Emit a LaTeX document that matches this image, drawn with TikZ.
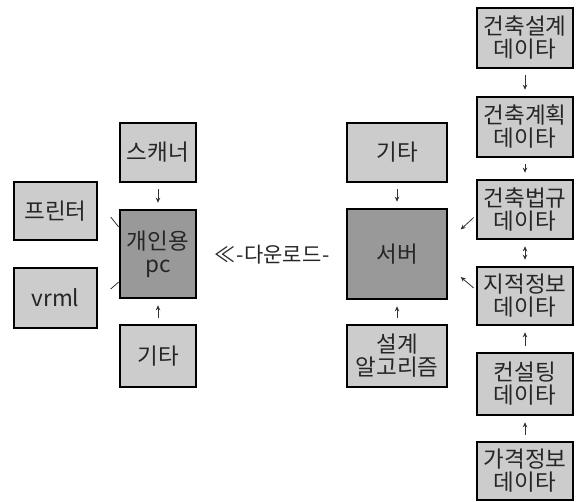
\documentclass[tikz,border=0pt]{standalone}
\usepackage{fontspec}
\setmainfont{Noto Sans CJK KR}
\usetikzlibrary{arrows.meta,calc}
\tikzset{
  box/.style={draw=black, line width=2.6pt, fill=black!20, align=center, inner sep=0pt,
    font=\fontsize{22.5}{23}\selectfont, text=black!85},
  dark/.style={box, fill=black!40},
  arr/.style={line width=0.8pt, draw=black!80, -{Stealth[length=5pt,width=4.5pt]}, shorten >=6pt, shorten <=6pt},
  darr/.style={arr, {Stealth[length=5pt,width=4.5pt]}-{Stealth[length=5pt,width=4.5pt]}},
  tick/.style={line width=0.8pt, draw=black!80}
}
\begin{document}
\begin{tikzpicture}[x=1pt,y=-1pt]
\useasboundingbox (0,0) rectangle (579,502);
% right column
\node[box, minimum width=96pt, minimum height=60pt] (d1) at (525,38) {건축설계\\데이타};
\node[box, minimum width=96pt, minimum height=60pt] (d2) at (525,127) {건축계획\\데이타};
\node[box, minimum width=96pt, minimum height=59pt] (d3) at (525,209.5) {건축법규\\데이타};
\node[box, minimum width=96pt, minimum height=58pt] (d4) at (525,296) {지적정보\\데이타};
\node[box, minimum width=96pt, minimum height=62pt] (d5) at (525,384) {컨설팅\\데이타};
\node[box, minimum width=96pt, minimum height=58pt] (d6) at (525,471) {가격정보\\데이타};
% server column
\node[box, minimum width=100pt, minimum height=59pt] (sg) at (397,152.5) {기타};
\node[dark, minimum width=100pt, minimum height=90pt] (sv) at (397,254) {서버};
\node[box, minimum width=100pt, minimum height=62pt] (al) at (397,356) {설계\\알고리즘};
% pc column
\node[box, minimum width=76pt, minimum height=59pt] (sc) at (158,152.5) {스캐너};
\node[dark, minimum width=76pt, minimum height=88pt] (pc) at (158,254) {개인용\\pc};
\node[box, minimum width=76pt, minimum height=62pt] (pg) at (158,356) {기타};
\node[box, minimum width=83pt, minimum height=58pt] (pr) at (55.5,211) {프린터};
\node[box, minimum width=83pt, minimum height=60pt] (vr) at (55.5,298) {vrml};
% download label
\node[font=\fontsize{21}{22}\selectfont, text=black!85, inner sep=0pt] (dl) at (272,255) {≪\kern1pt-\kern1pt다운로드\kern1pt-};
% connectors
\draw[arr] (d1) -- (d2);
\draw[arr] (d2) -- (d3);
\draw[darr] (d3) -- (d4);
\draw[arr] (d5) -- (d4);
\draw[arr] (d6) -- (d5);
\draw[arr] (sg) -- (sv);
\draw[arr] (al) -- (sv);
\draw[arr] (sc) -- (pc);
\draw[arr] (pg) -- (pc);
\draw[arr, shorten <=0pt, shorten >=0pt] ($(d3.west)+(-2,8)$) -- ($(d3.west)+(-15,20)$);
\draw[arr, shorten <=0pt, shorten >=0pt] ($(d4.west)+(-2,-8)$) -- ($(d4.west)+(-15,-19)$);
\draw[tick] ($(pc.west)+(-8,-37)$) -- ($(pc.west)+(0,-27)$);
\draw[tick] ($(pc.west)+(-8,35)$) -- ($(pc.west)+(0,28)$);
\end{tikzpicture}
\end{document}
